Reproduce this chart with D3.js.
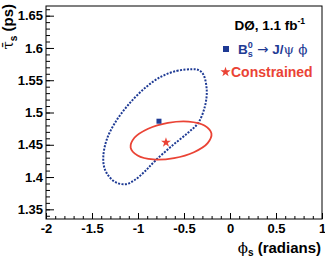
<!DOCTYPE html>
<html>
<head>
<meta charset="utf-8">
<script src="https://cdn.jsdelivr.net/npm/d3@7"></script>
<style>
  body { margin: 0; background: #fff; }
  svg text { font-family: "Liberation Sans", Arial, sans-serif; font-weight: bold; }
</style>
</head>
<body>
<div id="chart"></div>
<script>
// contour of the B_s -> J/psi phi fit (dotted blue)
const fitPhi = [-0.416, -0.562, -0.742, -0.924, -1.105, -1.25, -1.34, -1.377, -1.365, -1.31, -1.23, -1.13, -1.04,
                -0.924, -0.815, -0.634, -0.453, -0.345, -0.272, -0.253, -0.29, -0.345];
const fitTau = [1.567, 1.565, 1.556, 1.538, 1.512, 1.484, 1.458, 1.432, 1.414, 1.400, 1.391, 1.389, 1.395,
                1.409, 1.425, 1.448, 1.469, 1.484, 1.51, 1.535, 1.559, 1.566];
// constrained contour (solid red)
const conPhi = [-0.202, -0.243, -0.392, -0.608, -0.832, -1.004, -1.08, -1.039, -0.89, -0.675, -0.451, -0.278];
const conTau = [1.4676, 1.4525, 1.4385, 1.4294, 1.4273, 1.4334, 1.4457, 1.4608, 1.4749, 1.484, 1.486, 1.48];
// central values
const fitCentre = [-0.772, 1.4865];
const conCentre = [-0.696, 1.4536];

const xTicks = [-2, -1.5, -1, -0.5, 0, 0.5, 1];
const yTicks = [1.35, 1.4, 1.45, 1.5, 1.55, 1.6, 1.65];

const W = 325, H = 257;
const margin = {top: 6, right: 3, bottom: 38, left: 46};
const width = W - margin.left - margin.right, height = H - margin.top - margin.bottom;
const blue = "#1e3a94", red = "#ea4335";
const fmt = d => String(d);

const svg = d3.select("#chart").append("svg").attr("width", W).attr("height", H);
const g = svg.append("g").attr("transform", "translate(" + margin.left + "," + margin.top + ")");

const x = d3.scaleLinear().domain([-2, 1]).range([0, width]);
const y = d3.scaleLinear().domain([1.335, 1.665]).range([height, 0]);

// minor ticks
const xMinor = d3.range(-20, 11).map(d => d / 10);
const yMinor = d3.range(134, 167).map(d => d / 100);
g.append("g").attr("transform", "translate(0," + height + ")")
    .call(d3.axisBottom(x).tickValues(xMinor).tickSize(-3).tickSizeOuter(0).tickFormat(""));
g.append("g")
    .call(d3.axisLeft(y).tickValues(yMinor).tickSize(-4).tickSizeOuter(0).tickFormat(""));

// major ticks + labels
g.append("g").attr("transform", "translate(0," + height + ")")
    .call(d3.axisBottom(x).tickValues(xTicks).tickSize(-6).tickSizeOuter(0).tickPadding(5).tickFormat(fmt));
g.append("g")
    .call(d3.axisLeft(y).tickValues(yTicks).tickSize(-8).tickSizeOuter(0).tickPadding(3).tickFormat(fmt));
g.selectAll(".tick text").attr("font-size", 13).attr("fill", "#000")
    .style("font-family", "'Liberation Sans', Arial, sans-serif").style("font-weight", "bold");
g.selectAll(".domain").remove();
g.selectAll(".tick line").attr("stroke", "#000");

// frame
g.append("rect").attr("width", width).attr("height", height)
    .attr("fill", "none").attr("stroke", "#000").attr("stroke-width", 1);

const line = d3.line().x(d => x(d[0])).y(d => y(d[1])).curve(d3.curveCatmullRomClosed);

g.append("path")
    .attr("d", line(d3.zip(fitPhi, fitTau)))
    .attr("fill", "none").attr("stroke", blue).attr("stroke-width", 2)
    .attr("stroke-dasharray", "2 1.4");

g.append("path")
    .attr("d", line(d3.zip(conPhi, conTau)))
    .attr("fill", "none").attr("stroke", red).attr("stroke-width", 1.8);

g.append("rect")
    .attr("x", x(fitCentre[0]) - 2.5).attr("y", y(fitCentre[1]) - 2.5)
    .attr("width", 5).attr("height", 5).attr("fill", blue);
g.append("path")
    .attr("transform", "translate(" + x(conCentre[0]) + "," + y(conCentre[1]) + ")")
    .attr("d", d3.symbol(d3.symbolStar, 30)()).attr("fill", red);

// axis titles
const xt = svg.append("text").attr("x", W - 4).attr("y", 253).attr("text-anchor", "end")
    .attr("font-size", 15).attr("fill", "#000");
xt.append("tspan").text("ϕ").style("font-weight", "normal").style("font-family", "'DejaVu Serif', serif");
xt.append("tspan").text("s").attr("font-size", 10).attr("dy", 3);
xt.append("tspan").text(" (radians)").attr("dy", -3);

const yt = svg.append("text").attr("transform", "translate(13,4) rotate(-90)")
    .attr("text-anchor", "end").attr("font-size", 15).attr("fill", "#000");
yt.append("tspan").text("τ\u0304").style("font-weight", "normal").style("font-family", "'DejaVu Serif', serif");
yt.append("tspan").text("s").attr("font-size", 10).attr("dy", 4);
yt.append("tspan").text(" (ps)").attr("dy", -4);

// legend
const lg = svg.append("g");
const t1 = lg.append("text").attr("x", 305).attr("y", 30).attr("text-anchor", "end")
    .attr("font-size", 13.5).attr("fill", "#000");
t1.append("tspan").text("DØ, 1.1 fb");
t1.append("tspan").text("-1").attr("font-size", 8.5).attr("dy", -6);

lg.append("rect").attr("x", 223).attr("y", 46).attr("width", 6).attr("height", 6).attr("fill", blue);
const t2 = lg.append("text").attr("x", 238).attr("y", 54).attr("font-size", 13.5).attr("fill", blue);
t2.append("tspan").text("B");
t2.append("tspan").text("0").attr("font-size", 9).attr("dy", -6);
t2.append("tspan").text("s").attr("font-size", 9).attr("dx", -5).attr("dy", 9);
t2.append("tspan").text(" →").attr("dy", -3).style("font-weight", "normal")
    .style("font-family", "'DejaVu Sans', sans-serif");
t2.append("tspan").text(" J/");
t2.append("tspan").text("ψ").style("font-weight", "normal").style("font-family", "'DejaVu Serif', serif");
t2.append("tspan").text(" ϕ").style("font-weight", "normal").style("font-family", "'DejaVu Serif', serif");

lg.append("path").attr("transform", "translate(225.5,72)")
    .attr("d", d3.symbol(d3.symbolStar, 32)()).attr("fill", red);
lg.append("text").attr("x", 231).attr("y", 77).attr("font-size", 14).attr("fill", red).text("Constrained");
</script>
</body>
</html>
